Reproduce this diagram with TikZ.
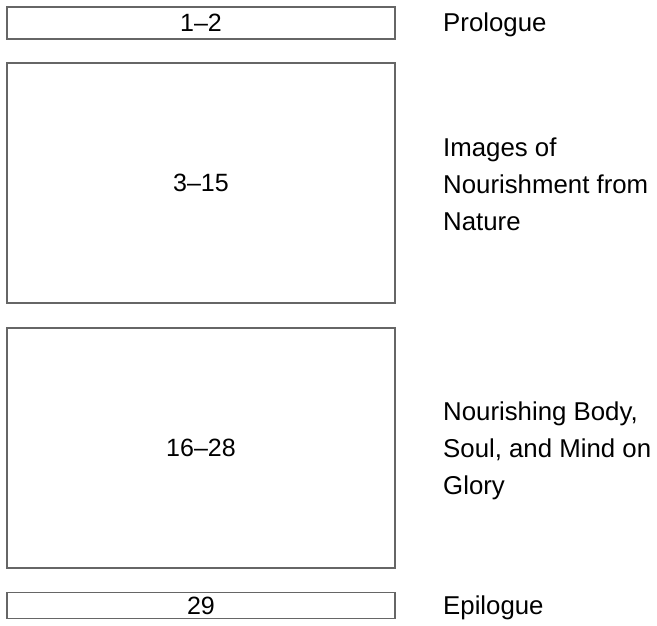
\documentclass[tikz,border=0pt]{standalone}
\usepackage{fontspec}
\setmainfont{Liberation Sans}
\usetikzlibrary{positioning}
\tikzset{
  part/.style={draw=black!60, line width=1.1pt, minimum width=388pt, inner sep=0pt,
    font=\fontsize{25}{30}\selectfont},
  title/.style={anchor=west, align=left, inner sep=0pt, font=\fontsize{25.8}{37}\selectfont}
}

\begin{document}
\begin{tikzpicture}[x=1pt,y=-1pt]
\useasboundingbox (0,0) rectangle (657,625);

% Parts
\node[part, minimum height=32pt] (prologue) at (201,23) {1--2};
\node[part, minimum height=240pt] (nature) at (201,183) {3--15};
\node[part, minimum height=240pt] (glory) at (201,448) {16--28};
\node[part, minimum height=26pt] (epilogue) at (201,605.5) {29};

% Titles
\node[title] (tprologue) at (443,25) {Prologue};
\node[title] (tnature) at (443,184) {Images of\\Nourishment from\\Nature};
\node[title] (tglory) at (443,451) {Nourishing Body,\\Soul, and Mind on\\Glory};
\node[title] (tepilogue) at (443,607.5) {Epilogue};

\end{tikzpicture}
\end{document}
